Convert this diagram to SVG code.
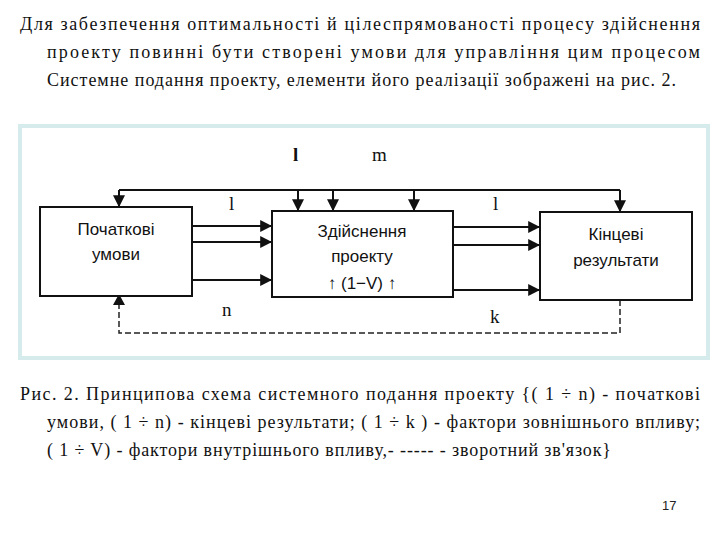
<svg xmlns="http://www.w3.org/2000/svg" width="720" height="540" viewBox="0 0 720 540">
<style>
.t{font-family:"Liberation Serif",serif;font-size:18px;fill:#111}
.n{font-family:"Liberation Sans",sans-serif;font-size:17px;fill:#111;text-anchor:middle}
.b{fill:#fff;stroke:#111;stroke-width:2}
.c{stroke:#111;stroke-width:2;fill:none}
.d{stroke:#222;stroke-width:1.5;fill:none;stroke-dasharray:6 3}
.l{font-family:"Liberation Serif",serif;font-size:19px;fill:#111}
</style>
<defs><marker id="a" viewBox="0 0 10 10" refX="9" refY="5" markerWidth="6" markerHeight="6" orient="auto"><path d="M0,0L10,5L0,10z" fill="#111"/></marker></defs>
<rect width="720" height="540" fill="#fff"/>
<text class="t" x="20" y="30" textLength="680" lengthAdjust="spacing">Для забезпечення оптимальності й цілеспрямованості процесу здійснення</text>
<text class="t" x="47" y="58" textLength="653" lengthAdjust="spacing">проекту повинні бути створені умови для управління цим процесом</text>
<text class="t" x="47" y="86" textLength="629" lengthAdjust="spacing">Системне подання проекту, елементи його реалізації зображені на рис. 2.</text>
<rect x="20" y="126" width="688" height="232" fill="#fff" stroke="#d6ecec" stroke-width="4"/>
<g id="connectors">
<path class="c" d="M119,190H620"/>
<path class="c" d="M119,190V206" marker-end="url(#a)"/>
<path class="c" d="M620,190V211" marker-end="url(#a)"/>
<path class="c" d="M298,190V210" marker-end="url(#a)"/>
<path class="c" d="M333,190V210" marker-end="url(#a)"/>
<path class="c" d="M414,190V210" marker-end="url(#a)"/>
<path class="c" d="M192,226H271" marker-end="url(#a)"/>
<path class="c" d="M192,242H271" marker-end="url(#a)"/>
<path class="c" d="M192,280H271" marker-end="url(#a)"/>
<path class="c" d="M453,227H539" marker-end="url(#a)"/>
<path class="c" d="M453,245H539" marker-end="url(#a)"/>
<path class="c" d="M453,290H539" marker-end="url(#a)"/>
<path class="d" d="M620,300V333H119V298"/>
<path d="M113,305L119,294L125,305z" fill="#111"/>
<text class="l" x="293" y="161" font-weight="bold">l</text>
<text class="l" x="372" y="161">m</text>
<text class="l" x="229" y="210">l</text>
<text class="l" x="222" y="316">n</text>
<text class="l" x="493" y="210">l</text>
<text class="l" x="490" y="323">k</text>
</g>
<g id="n1"><rect class="b" x="40" y="207" width="152" height="89"/>
<text class="n" x="116" y="235">Початкові</text>
<text class="n" x="116" y="260">умови</text></g>
<g id="n2"><rect class="b" x="272" y="211" width="181" height="86"/>
<text class="n" x="362" y="237">Здійснення</text>
<text class="n" x="362" y="262">проекту</text>
<text class="n" x="362" y="289">↑ (1−V) ↑</text></g>
<g id="n3"><rect class="b" x="540" y="212" width="152" height="88"/>
<text class="n" x="616" y="240">Кінцеві</text>
<text class="n" x="616" y="266">результати</text></g>
<text class="t" x="20" y="400" textLength="680" lengthAdjust="spacing">Рис. 2. Принципова схема системного подання проекту {( 1 ÷ n) - початкові</text>
<text class="t" x="47" y="428" textLength="653" lengthAdjust="spacing">умови, ( 1 ÷ n) - кінцеві результати; ( 1 ÷ k ) - фактори зовнішнього впливу;</text>
<text class="t" x="47" y="456" textLength="564" lengthAdjust="spacing">( 1 ÷ V) - фактори внутрішнього впливу,- ----- - зворотний зв'язок}</text>
<text x="662" y="510" font-family="Liberation Sans" font-size="13" fill="#222">17</text>
</svg>
